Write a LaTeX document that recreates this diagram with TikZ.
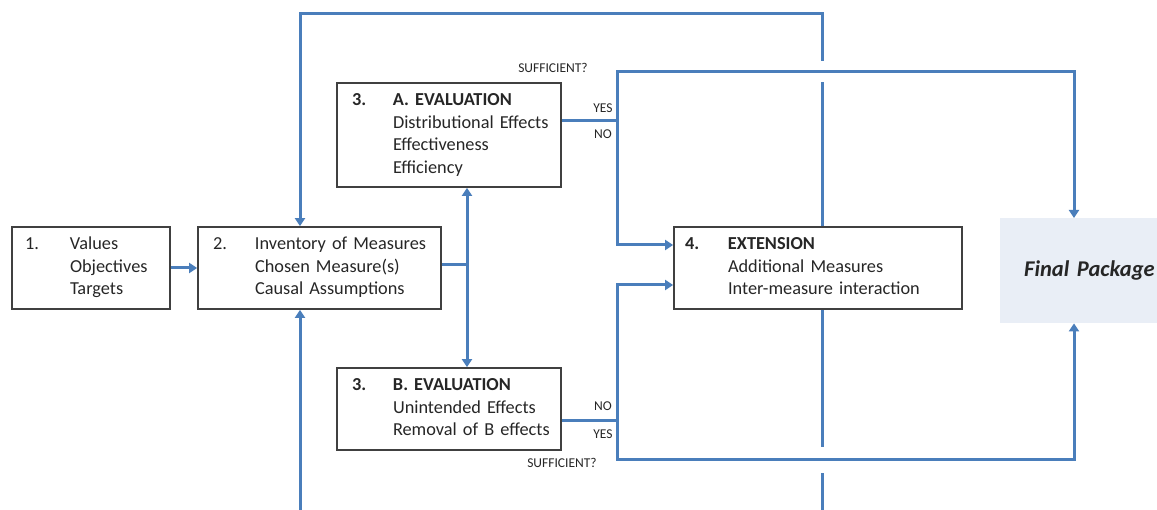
\documentclass[tikz,border=0pt]{standalone}
\usepackage{fontspec}
\setmainfont{Carlito}
\usetikzlibrary{arrows.meta,calc}
\definecolor{lineblue}{HTML}{4A7EBB}
\definecolor{boxgray}{HTML}{404040}
\definecolor{finalfill}{HTML}{E9EEF6}
\definecolor{txtgray}{HTML}{262626}
\begin{document}
\begin{tikzpicture}[x=1pt,y=-1pt,
  boxnode/.style={draw=boxgray, line width=1.8pt, rectangle, inner ysep=0pt, align=left,
    font=\fontsize{18.3}{22.5}\selectfont, text=txtgray},
  flow/.style={draw=lineblue, line width=3pt},
  arr/.style={flow, -{Triangle[width=10pt,length=8pt]}},
  gapwhite/.style={draw=white, line width=21pt},
  small/.style={font=\fontsize{13.5}{15}\selectfont, inner sep=0pt, text=txtgray},
]
\useasboundingbox (0,0) rectangle (1157,510);
\clip (0,0) rectangle (1157,510);

% boxes
\node[boxnode, inner xsep=13pt, text width=132pt, minimum height=82pt] (b1) at (91,268)
  {\begin{tabular}{@{}p{45pt}@{}l@{}}1. & Values\\ & Objectives\\ & Targets\end{tabular}};
\node[boxnode, inner xsep=15pt, text width=213pt, minimum height=82pt] (b2) at (319.5,268)
  {\begin{tabular}{@{}p{42pt}@{}l@{}}2. & Inventory of Measures\\ & Chosen Measure(s)\\ & Causal Assumptions\end{tabular}};
\node[boxnode, inner xsep=15pt, text width=194pt, minimum height=104pt] (bA) at (449,135)
  {\begin{tabular}{@{}p{41pt}@{}l@{}}\textbf{3.} & \textbf{A. EVALUATION}\\ & Distributional Effects\\ & Effectiveness\\ & Efficiency\end{tabular}};
\node[boxnode, inner xsep=15pt, text width=194pt, minimum height=82pt] (bB) at (449,409)
  {\begin{tabular}{@{}p{41pt}@{}l@{}}\textbf{3.} & \textbf{B. EVALUATION}\\ & Unintended Effects\\ & Removal of B effects\end{tabular}};
\node[boxnode, inner xsep=11pt, text width=266pt, minimum height=82pt] (b4) at (818,268)
  {\begin{tabular}{@{}p{43pt}@{}l@{}}\textbf{4.} & \textbf{EXTENSION}\\ & Additional Measures\\ & Inter-measure interaction\end{tabular}};
\node[fill=finalfill, inner xsep=24pt, text width=160pt, minimum height=105pt, align=left,
  anchor=north west, font=\fontsize{22.5}{26}\selectfont\bfseries\itshape, text=txtgray] (final) at (1000,218)
  {Final Package};

% coordinates
\coordinate (jn) at (467,265);
\coordinate (ya) at (617,121);
\coordinate (yatop) at (617,72);
\coordinate (yaright) at (1074,72);
\coordinate (na) at (617,245);
\coordinate (yb) at (617,421);
\coordinate (nb) at (617,285);
\coordinate (ybot) at (617,460);
\coordinate (ybr) at (1074,460);
\coordinate (lx) at (822,14);
\coordinate (lw) at (300,14);
\coordinate (bx) at (822,545);
\coordinate (bw) at (300,545);

% feedback loops
\draw[arr] (lx |- b4.north) -- (lx) -- (lw) -- (lw |- b2.north);
\draw[arr] (bx |- b4.south) -- (bx) -- (bw) -- (bw |- b2.south);
% line jumps
\draw[gapwhite] ($(lx |- yatop)+(-12,0)$) -- ($(lx |- yatop)+(12,0)$);
\draw[gapwhite, line width=25pt] ($(lx |- ybot)+(-12,0)$) -- ($(lx |- ybot)+(12,0)$);

% main flow
\draw[arr] (b1.east) -- (b2.west);
\draw[flow] (b2.east |- jn) -- (jn);
\draw[arr] (jn) -- (jn |- bA.south);
\draw[arr] (jn) -- (jn |- bB.north);

\draw[flow] (bA.east |- ya) -- (ya);
\draw[arr] (ya) -- (yatop) -- (yaright) -- (yaright |- final.north);
\draw[arr] (ya) -- (na) -- (na -| b4.west);

\draw[flow] (bB.east |- yb) -- (yb);
\draw[arr] (yb) -- (nb) -- (nb -| b4.west);
\draw[arr] (yb) -- (ybot) -- (ybr) -- (ybr |- final.south);

% labels
\node[small] (sufA) at (553,68) {SUFFICIENT?};
\node[small] (yesA) at (603,108) {YES};
\node[small] (noA) at (603,134) {NO};
\node[small] (noB) at (603,406) {NO};
\node[small] (yesB) at (603,434) {YES};
\node[small] (sufB) at (562,463) {SUFFICIENT?};
\end{tikzpicture}
\end{document}
